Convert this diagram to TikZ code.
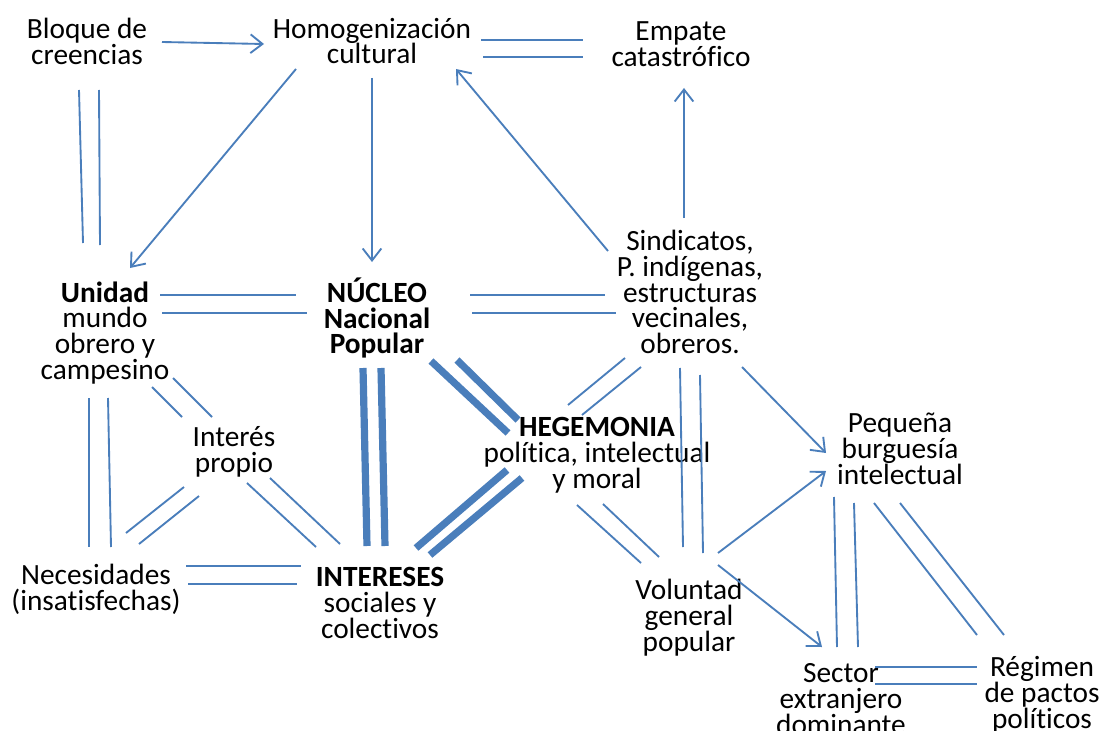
\documentclass[tikz,border=0pt]{standalone}
\usepackage{fontspec}
\setmainfont{Carlito}[Ligatures={NoCommon,NoContextual}]
\usetikzlibrary{arrows.meta}
\definecolor{lblue}{HTML}{4A7EBB}
\tikzset{
  lbl/.style={align=center, inner sep=0pt, font=\fontsize{22}{19.4}\selectfont},
  ln/.style={draw=lblue, line width=1.4pt},
  thick ln/.style={draw=lblue, line width=5.4pt},
  arr/.style={ln, -{Straight Barb[length=9pt, width=14pt, line width=1.4pt]}}
}
\begin{document}
\begin{tikzpicture}[x=0.75pt, y=-0.75pt]
\useasboundingbox (0,0) rectangle (1099,731);
\fill[white] (0,0) rectangle (1099,731);

\node[lbl] (bloque) at (87,41) {Bloque de\\creencias};
\node[lbl] (homog) at (372,41) {Homogenización\\cultural};
\node[lbl] (empate) at (681,44) {Empate\\catastrófico};
\node[lbl] (unidad) at (105,333) {\textbf{Unidad}\\mundo\\obrero y\\campesino};
\node[lbl] (nucleo) at (377,318) {\textbf{NÚCLEO}\\\textbf{Nacional}\\\textbf{Popular}};
\node[lbl] (sind) at (690,292) {Sindicatos,\\P. indígenas,\\estructuras\\vecinales,\\obreros.};
\node[lbl] (interes) at (234,452) {Interés\\propio};
\node[lbl] (hegem) at (597,455) {\textbf{HEGEMONIA}\\política, intelectual\\y moral};
\node[lbl] (pequena) at (900,449) {Pequeña\\burguesía\\intelectual};
\node[lbl] (neces) at (96,589) {Necesidades\\(insatisfechas)};
\node[lbl] (intereses) at (380,603) {\textbf{INTERESES}\\sociales y\\colectivos};
\node[lbl] (voluntad) at (689,618) {Voluntad\\general\\popular};
\node[lbl] (sector) at (841,699) {Sector\\extranjero\\dominante};
\node[lbl] (regimen) at (1042,695) {Régimen\\de pactos\\políticos};

% arrows
\draw[arr] ([shift={(75,1)}]bloque.center) -- ([shift={(-108,3)}]homog.center);
\draw[arr] ([shift={(-76,28)}]homog.center) -- ([shift={(25,-65)}]unidad.center);
\draw[arr] ([shift={(0,37)}]homog.center) -- ([shift={(-5,-56)}]nucleo.center);
\draw[arr] ([shift={(-82,-41)}]sind.center) -- ([shift={(84,28)}]homog.center);
\draw[arr] ([shift={(-6,-74)}]sind.center) -- ([shift={(3,44)}]empate.center);
\draw[arr] ([shift={(52,75)}]sind.center) -- ([shift={(-74,4)}]pequena.center);
\draw[arr] ([shift={(29,-65)}]voluntad.center) -- ([shift={(-74,22)}]pequena.center);
\draw[arr] ([shift={(29,-53)}]voluntad.center) -- ([shift={(-19,-52)}]sector.center);

% thin double connectors
\draw[ln] ([shift={(109,-1)}]homog.center) -- ([shift={(-98,-4)}]empate.center);
\draw[ln] ([shift={(111,16)}]homog.center) -- ([shift={(-98,13)}]empate.center);

\draw[ln] ([shift={(-8,49)}]bloque.center) -- ([shift={(-22,-90)}]unidad.center);
\draw[ln] ([shift={(12,49)}]bloque.center) -- ([shift={(-5,-88)}]unidad.center);

\draw[ln] ([shift={(55,-38)}]unidad.center) -- ([shift={(-81,-23)}]nucleo.center);
\draw[ln] ([shift={(57,-20)}]unidad.center) -- ([shift={(-70,-5)}]nucleo.center);

\draw[ln] ([shift={(93,-23)}]nucleo.center) -- ([shift={(-85,3)}]sind.center);
\draw[ln] ([shift={(95,-5)}]nucleo.center) -- ([shift={(-74,21)}]sind.center);

\draw[ln] ([shift={(-16,65)}]unidad.center) -- ([shift={(-7,-42)}]neces.center);
\draw[ln] ([shift={(3,65)}]unidad.center) -- ([shift={(15,-42)}]neces.center);

\draw[ln] ([shift={(47,54)}]unidad.center) -- ([shift={(-52,-35)}]interes.center);
\draw[ln] ([shift={(68,45)}]unidad.center) -- ([shift={(-22,-35)}]interes.center);

\draw[ln] ([shift={(-50,35)}]interes.center) -- ([shift={(30,-56)}]neces.center);
\draw[ln] ([shift={(-35,44)}]interes.center) -- ([shift={(43,-45)}]neces.center);

\draw[ln] ([shift={(13,31)}]interes.center) -- ([shift={(-64,-56)}]intereses.center);
\draw[ln] ([shift={(36,26)}]interes.center) -- ([shift={(-40,-59)}]intereses.center);

\draw[ln] ([shift={(90,-23)}]neces.center) -- ([shift={(-79,-37)}]intereses.center);
\draw[ln] ([shift={(92,-5)}]neces.center) -- ([shift={(-83,-19)}]intereses.center);

\draw[ln] ([shift={(-29,-50)}]hegem.center) -- ([shift={(-65,66)}]sind.center);
\draw[ln] ([shift={(-15,-40)}]hegem.center) -- ([shift={(-49,75)}]sind.center);

\draw[ln] ([shift={(-20,50)}]hegem.center) -- ([shift={(-48,-55)}]voluntad.center);
\draw[ln] ([shift={(6,49)}]hegem.center) -- ([shift={(-30,-61)}]voluntad.center);

\draw[ln] ([shift={(-10,76)}]sind.center) -- ([shift={(-6,-71)}]voluntad.center);
\draw[ln] ([shift={(10,83)}]sind.center) -- ([shift={(14,-65)}]voluntad.center);

\draw[ln] ([shift={(-66,48)}]pequena.center) -- ([shift={(-4,-52)}]sector.center);
\draw[ln] ([shift={(-46,54)}]pequena.center) -- ([shift={(17,-52)}]sector.center);

\draw[ln] ([shift={(-26,54)}]pequena.center) -- ([shift={(-65,-60)}]regimen.center);
\draw[ln] ([shift={(0,54)}]pequena.center) -- ([shift={(-38,-60)}]regimen.center);

\draw[ln] ([shift={(34,-32)}]sector.center) -- ([shift={(-65,-28)}]regimen.center);
\draw[ln] ([shift={(34,-15)}]sector.center) -- ([shift={(-65,-11)}]regimen.center);

% thick double connectors
\draw[thick ln] ([shift={(-14,50)}]nucleo.center) -- ([shift={(-13,-57)}]intereses.center);
\draw[thick ln] ([shift={(4,50)}]nucleo.center) -- ([shift={(5,-57)}]intereses.center);

\draw[thick ln] ([shift={(54,43)}]nucleo.center) -- ([shift={(-89,-22)}]hegem.center);
\draw[thick ln] ([shift={(80,42)}]nucleo.center) -- ([shift={(-79,-35)}]hegem.center);

\draw[thick ln] ([shift={(-90,15)}]hegem.center) -- ([shift={(36,-55)}]intereses.center);
\draw[thick ln] ([shift={(-75,23)}]hegem.center) -- ([shift={(50,-48)}]intereses.center);
\end{tikzpicture}
\end{document}
